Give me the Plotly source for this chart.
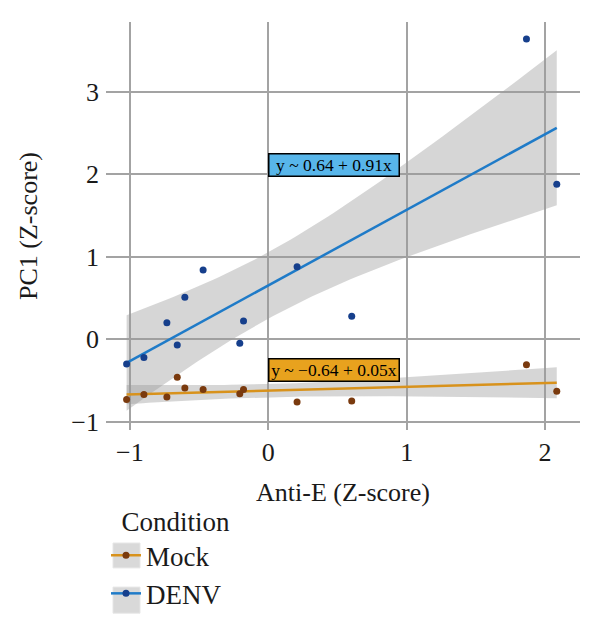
import numpy as np
import plotly.graph_objects as go

# ---- data ----
anti_e = [-1.024, -0.899, -0.733, -0.658, -0.603, -0.471, -0.206, -0.179, 0.208, 0.603, 1.866, 2.085]
pc1_denv = [-0.30, -0.22, 0.20, -0.07, 0.51, 0.84, -0.05, 0.22, 0.88, 0.28, 3.64, 1.88]
pc1_mock = [-0.73, -0.67, -0.70, -0.46, -0.59, -0.61, -0.66, -0.61, -0.76, -0.75, -0.31, -0.63]
conditions = ["Mock", "DENV"]
labels = {"DENV": "y ~ 0.64 + 0.91x", "Mock": "y ~ \u22120.64 + 0.05x"}
label_y = {"DENV": 2.11, "Mock": -0.37}

line_col = {"Mock": "#D8921C", "DENV": "#1F7BC8"}
pt_col = {"Mock": "#7A3A0E", "DENV": "#163F8C"}
lab_fill = {"Mock": "#E8A21E", "DENV": "#58B6EA"}

FONT = "Liberation Serif"
T975 = 2.228  # t quantile, df = 10


def fit(x, y):
    x = np.asarray(x, float)
    y = np.asarray(y, float)
    n = len(x)
    b1, b0 = np.polyfit(x, y, 1)
    res = y - (b0 + b1 * x)
    s = np.sqrt(np.sum(res ** 2) / (n - 2))
    sxx = np.sum((x - x.mean()) ** 2)
    xg = np.linspace(x.min(), x.max(), 80)
    yg = b0 + b1 * xg
    se = s * np.sqrt(1.0 / n + (xg - x.mean()) ** 2 / sxx)
    return xg, yg, yg - T975 * se, yg + T975 * se


fig = go.Figure()
series = {"Mock": pc1_mock, "DENV": pc1_denv}

# bands
for c in ["DENV", "Mock"]:
    xg, yg, lo, hi = fit(anti_e, series[c])
    fig.add_trace(go.Scatter(
        x=np.concatenate([xg, xg[::-1]]), y=np.concatenate([hi, lo[::-1]]),
        fill="toself", fillcolor="rgba(153,153,153,0.4)", line=dict(width=0),
        mode="lines", showlegend=False, hoverinfo="skip"))
# lines
for c in ["DENV", "Mock"]:
    xg, yg, lo, hi = fit(anti_e, series[c])
    fig.add_trace(go.Scatter(x=xg, y=yg, mode="lines",
                             line=dict(color=line_col[c], width=2.5), showlegend=False))
# points
for c in ["DENV", "Mock"]:
    fig.add_trace(go.Scatter(x=anti_e, y=series[c], mode="markers",
                             marker=dict(color=pt_col[c], size=7), showlegend=False))
# legend entries
for i, c in enumerate(conditions):
    fig.add_trace(go.Scatter(x=[None], y=[None], mode="lines+markers", name=c,
                             legendgroup=c,
                             line=dict(color=line_col[c], width=2.5),
                             marker=dict(color=pt_col[c], size=7)))

for c in conditions:
    fig.add_annotation(x=0, y=label_y[c], xref="x", yref="y", text=labels[c],
                       xanchor="left", yanchor="middle", showarrow=False,
                       font=dict(family=FONT, size=17.5, color="black"),
                       bgcolor=lab_fill[c], bordercolor="black", borderwidth=1.5,
                       borderpad=0, width=129, height=21)

# grey key boxes behind legend symbols
for y0, y1 in [(-0.277, -0.338), (-0.385, -0.449)]:
    fig.add_shape(type="rect", xref="paper", yref="paper", x0=0.0148, x1=0.0717,
                  y0=y1, y1=y0, fillcolor="#d9d9d9", line=dict(color="#e6e6e6", width=1),
                  layer="below")

fig.update_layout(
    width=600, height=636,
    margin=dict(l=106, r=20, t=22, b=206),
    paper_bgcolor="white", plot_bgcolor="white",
    font=dict(family=FONT, size=26, color="#1a1a1a"),
    showlegend=True,
    legend=dict(title=dict(text="\u00a0\u00a0Condition", font=dict(size=27)),
                x=0.0, y=-0.162, xanchor="left", yanchor="top",
                traceorder="normal", tracegroupgap=18, itemwidth=30,
                font=dict(size=27), bgcolor="rgba(0,0,0,0)"),
)
fig.update_xaxes(range=[-1.173, 2.253], tickvals=[-1, 0, 1, 2],
                 ticktext=["\u22121", "0", "1", "2"],
                 showgrid=True, gridcolor="#a3a3a3", gridwidth=1.5,
                 zeroline=False, showline=False, ticks="", ticklabelstandoff=4,
                 title=dict(text="Anti-E (Z-score)", font=dict(size=26), standoff=16))
fig.update_yaxes(range=[-1.10, 3.845], tickvals=[-1, 0, 1, 2, 3],
                 ticktext=["\u22121", "0", "1", "2", "3"],
                 showgrid=True, gridcolor="#a3a3a3", gridwidth=1.5,
                 zeroline=False, showline=False, ticks="", ticklabelstandoff=6,
                 title=dict(text="PC1 (Z-score)", font=dict(size=26), standoff=26))

fig.write_html("out.html")
